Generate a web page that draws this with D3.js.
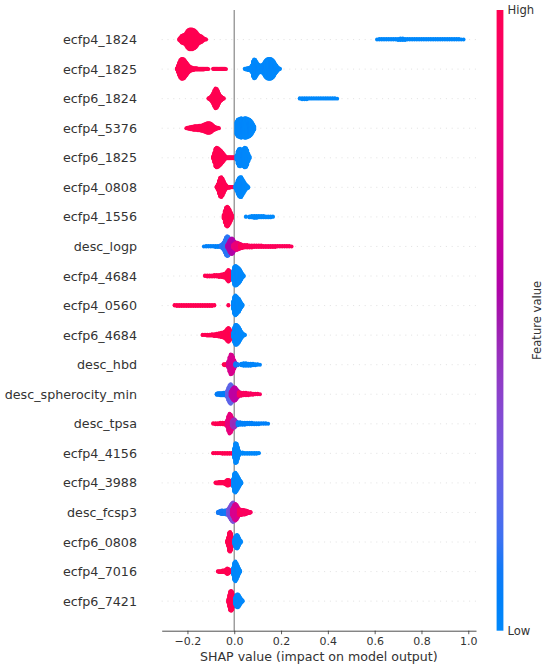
<!DOCTYPE html>
<meta charset="utf-8">
<head>
    <title>SHAP summary</title>
    <script src="https://cdn.jsdelivr.net/npm/d3@7"></script>
</head>

<style>
    body { margin: 0; background: #fff; }
    text { font-family: "DejaVu Sans", sans-serif; fill: #333; }
</style>

<svg width="550" height="670"></svg>

<script>
    // features, most important first
    var features = ["ecfp4_1824", "ecfp4_1825", "ecfp6_1824", "ecfp4_5376", "ecfp6_1825",
        "ecfp4_0808", "ecfp4_1556", "desc_logp", "ecfp4_4684", "ecfp4_0560", "ecfp6_4684",
        "desc_hbd", "desc_spherocity_min", "desc_tpsa", "ecfp4_4156", "ecfp4_3988",
        "desc_fcsp3", "ecfp6_0808", "ecfp4_7016", "ecfp6_7421"];

    var xTicks = [-0.2, 0.0, 0.2, 0.4, 0.6, 0.8, 1.0];

    // each run: [first SHAP value, bin step, feature value (0 low .. 1 high), samples per bin]
    var ecfp4_1824 = [
        [-0.235, 0.005, 1, [3, 8, 14, 16, 18, 20, 26, 34, 38, 40, 40, 40, 38, 36, 32, 26, 20, 16, 14, 12, 8, 4, 2, 1]],
        [0.61, 0.01, 0, [1, 2, 2, 2, 2, 2, 2, 2, 2, 3, 4, 4, 3, 2, 2, 2, 2, 2, 2, 2, 2, 2, 2, 2, 2, 2, 2, 2, 2, 2, 2, 2, 2, 2, 2, 2, 1, 1]]
    ];
    var ecfp4_1825 = [
        [-0.245, 0.005, 1, [4, 14, 26, 36, 40, 40, 38, 32, 26, 20, 14, 10, 8, 6, 5, 4, 4, 4, 3, 3, 3, 3, 3, 3, 2, 2, 2, 1]],
        [-0.09, 0.005, 1, [2, 2, 2, 2, 2, 2, 2, 2, 2, 2, 2, 1]],
        [0.045, 0.005, 0, [2, 3, 4, 5, 6, 8, 14, 30, 38, 36, 28, 20, 16, 14, 14, 16, 20, 28, 34, 38, 40, 40, 40, 38, 34, 28, 20, 14, 8, 4, 2]]
    ];
    var ecfp6_1824 = [
        [-0.11, 0.005, 1, [2, 4, 8, 14, 22, 32, 40, 38, 30, 20, 12, 8, 4, 2]],
        [0.28, 0.01, 0, [2, 3, 3, 3, 2, 2, 2, 2, 2, 2, 2, 2, 2, 2, 2, 2, 1]]
    ];
    var ecfp4_5376 = [
        [-0.205, 0.005, 1, [1, 2, 3, 4, 5, 6, 7, 8, 8, 8, 9, 10, 10, 11, 12, 14, 16, 18, 20, 20, 20, 18, 14, 10, 7, 5, 3, 2, 1]],
        [0.01, 0.005, 0, [26, 34, 36, 38, 40, 36, 38, 40, 40, 38, 36, 34, 30, 24, 16, 8]]
    ];
    var ecfp6_1825 = [
        [-0.09, 0.005, 1, [6, 20, 36, 40, 38, 34, 30, 26, 20, 14, 8]],
        [-0.035, 0.005, 1, [3, 3, 3, 3, 3, 3, 3, 3, 3, 2]],
        [0.01, 0.005, 0, [10, 26, 34, 36, 32, 30, 36, 40, 38, 30, 16, 6]]
    ];
    var ecfp4_0808 = [
        [-0.075, 0.005, 1, [4, 12, 26, 38, 40, 34, 24, 14, 8, 4]],
        [-0.025, 0.005, 1, [3, 3, 2, 2, 2]],
        [0.005, 0.005, 0, [6, 16, 28, 36, 40, 40, 32, 24, 16, 10, 6, 3]]
    ];
    var ecfp4_1556 = [
        [-0.045, 0.005, 1, [8, 24, 36, 40, 36, 28, 18, 8]],
        [0.05, 0.005, 0, [2]],
        [0.065, 0.01, 0, [3, 4, 5, 5, 4, 4, 4, 3, 3, 3, 2]]
    ];
    var desc_logp = [
        [-0.13, 0.01, 0.05, [1, 2, 2, 2, 2, 3, 3, 4]],
        [-0.055, 0.005, 0.12, [6, 10, 16, 26, 36, 40, 38, 30, 22, 16]],
        [-0.03, 0.005, 0.55, [6, 14, 24, 30, 32, 28, 20, 14, 10, 8, 8]],
        [-0.005, 0.005, 0.82, [6, 10, 14, 16, 14, 12, 10, 8]],
        [0.025, 0.01, 0.97, [8, 7, 6, 6, 5, 5, 4, 4, 4, 4, 3, 3, 3, 3, 3, 3, 2, 2, 2, 2, 2, 2, 1]]
    ];
    var ecfp4_4684 = [
        [-0.125, 0.01, 1, [2, 3, 3, 3, 4, 4, 5, 6, 8, 12]],
        [-0.03, 0.005, 1, [18, 24, 20, 10]],
        [-0.005, 0.005, 0, [20, 36, 40, 38, 34, 30, 24, 16, 8, 3]]
    ];
    var ecfp4_0560 = [
        [-0.255, 0.01, 1, [2, 3, 3, 3, 3, 3, 3, 3, 3, 3, 3, 3, 3, 3, 3, 3, 3, 2]],
        [-0.025, 0.005, 1, [2]],
        [-0.005, 0.005, 0, [16, 34, 40, 36, 30, 26, 18, 10, 4]]
    ];
    var ecfp6_4684 = [
        [-0.135, 0.01, 1, [2, 2, 3, 3, 4, 5, 6, 8, 10, 12]],
        [-0.04, 0.005, 1, [14, 18, 24, 28, 24, 16, 8]],
        [-0.005, 0.005, 0, [10, 30, 40, 40, 36, 30, 22, 14, 8, 4, 2]]
    ];
    var desc_hbd = [
        [-0.045, 0.005, 1, [2, 3, 3, 4, 5]],
        [-0.025, 0.005, 0.72, [14, 30, 40, 38, 30, 18, 8]],
        [0.005, 0.005, 0.1, [6, 4, 3]],
        [0.03, 0.01, 0.03, [4, 6, 6, 5, 5, 4, 3, 2, 1]]
    ];
    var desc_spherocity_min = [
        [-0.075, 0.005, 0.08, [3, 4, 4, 5, 5, 5, 6, 6, 7, 8]],
        [-0.03, 0.005, 0.22, [14, 26, 36, 40, 34, 24]],
        [-0.015, 0.005, 0.6, [10, 18, 24, 28, 26, 20, 14, 10]],
        [0.02, 0.01, 0.95, [8, 7, 6, 6, 5, 4, 3, 2, 2, 1]]
    ];
    var desc_tpsa = [
        [-0.09, 0.01, 1, [2, 3, 3, 4, 4, 5, 6]],
        [-0.03, 0.005, 0.8, [14, 30, 40, 36, 26, 16]],
        [-0.01, 0.005, 0.45, [10, 16, 18, 14, 8]],
        [0.015, 0.01, 0.05, [7, 6, 5, 5, 4, 4, 4, 3, 3, 3, 2, 2, 2, 1]]
    ];
    var ecfp4_4156 = [
        [-0.09, 0.01, 1, [2, 2, 2, 2, 3, 3, 3, 3, 3, 2]],
        [0.0, 0.005, 0, [20, 40, 38, 24, 10]],
        [0.025, 0.01, 0, [4, 4, 3, 3, 3, 3, 3, 3, 2]]
    ];
    var ecfp4_3988 = [
        [-0.08, 0.005, 1, [2, 3, 3, 4, 4, 4, 4, 4, 5, 8, 12, 12, 10, 6, 4]],
        [-0.005, 0.005, 0, [16, 36, 40, 34, 26, 18, 10, 4]]
    ];
    var desc_fcsp3 = [
        [-0.07, 0.005, 0.1, [3, 4, 6, 8, 8, 7, 8, 9, 10, 12]],
        [-0.025, 0.005, 0.32, [14, 22, 30, 36, 40, 36]],
        [-0.01, 0.005, 0.72, [12, 20, 30, 34, 30, 22, 14]],
        [0.02, 0.005, 0.95, [12, 12, 11, 10, 10, 9, 8, 6, 4, 3, 2]]
    ];
    var ecfp6_0808 = [
        [-0.03, 0.004, 1, [6, 18, 36, 40, 34, 20, 8]],
        [0.0, 0.004, 0, [10, 20, 26, 28, 24, 16, 8, 4]]
    ];
    var ecfp4_7016 = [
        [-0.07, 0.005, 1, [2, 3, 3, 3, 4, 4, 4, 8, 12, 10, 6, 4, 3]],
        [-0.005, 0.005, 0, [14, 34, 40, 32, 22, 12, 4]]
    ];
    var ecfp6_7421 = [
        [-0.025, 0.004, 1, [8, 24, 38, 40, 36, 24, 10]],
        [0.004, 0.004, 0, [14, 22, 26, 26, 22, 16, 10, 6, 2]]
    ];

    var rows = [ecfp4_1824, ecfp4_1825, ecfp6_1824, ecfp4_5376, ecfp6_1825, ecfp4_0808,
        ecfp4_1556, desc_logp, ecfp4_4684, ecfp4_0560, ecfp6_4684, desc_hbd,
        desc_spherocity_min, desc_tpsa, ecfp4_4156, ecfp4_3988, desc_fcsp3, ecfp6_0808,
        ecfp4_7016, ecfp6_7421];

    var svg = d3.select('svg');

    var x = d3.scaleLinear().domain([-0.31, 1.033]).range([161.7, 476]);
    var y = d3.scaleLinear().domain([-1, features.length]).range([630.7, 10]);

    // shap's red_blue map: hue/chroma run blue -> red in Lch, lightness dips to 40 in the middle
    var hueC = d3.interpolateNumber(266.9, 380.3);
    var chromaC = d3.interpolateNumber(70, 90);
    var lightC = d3.scaleLinear().domain([0, 0.5, 1]).range([54, 40, 54]);
    var color = function (t) { return d3.hcl(hueC(t), chromaC(t), lightC(t)).formatHex(); };

    // dotted row guides and the zero line
    svg.append('g').selectAll('line').data(features).enter().append('line')
        .attr('x1', x.range()[0]).attr('x2', x.range()[1])
        .attr('y1', function (d, i) { return y(features.length - 1 - i); })
        .attr('y2', function (d, i) { return y(features.length - 1 - i); })
        .attr('stroke', '#cccccc').attr('stroke-width', 0.6).attr('stroke-dasharray', '1,4.8');

    svg.append('line')
        .attr('x1', x(0)).attr('x2', x(0)).attr('y1', y(-1)).attr('y2', y(features.length))
        .attr('stroke', '#999999').attr('stroke-width', 1.4);

    // beeswarm: points of one bin are stacked around the row, like shap does
    var dots = svg.append('g');
    features.forEach(function (name, i) {
        var pos = features.length - 1 - i;
        var rowRuns = rows[i];
        var maxLayer = d3.max(rowRuns, function (r) {
            return d3.max(r[3], function (n) { return Math.ceil((n - 1) / 2); });
        });
        var k = 0.9 * 0.4 / (maxLayer + 1);
        var pts = [];
        rowRuns.forEach(function (r) {
            r[3].forEach(function (n, j) {
                var v = r[0] + j * r[1];
                for (var l = 0; l < n; l++) {
                    var off = Math.ceil(l / 2) * (l % 2 ? 1 : -1);
                    pts.push({v: v, y: pos + off * k, c: r[2]});
                }
            });
        });
        dots.append('g').selectAll('circle').data(pts).enter().append('circle')
            .attr('cx', function (d) { return x(d.v); })
            .attr('cy', function (d) { return y(d.y); })
            .attr('r', 1.95)
            .attr('fill', function (d) { return color(d.c); });
    });

    // feature names
    svg.append('g').selectAll('text').data(features).enter().append('text')
        .attr('x', 137)
        .attr('y', function (d, i) { return y(features.length - 1 - i); })
        .attr('dy', '0.36em')
        .attr('text-anchor', 'end')
        .style('font-size', '12.7px')
        .text(function (d) { return d; });

    // x axis
    var gx = svg.append('g').attr('transform', 'translate(0,' + y(-1) + ')')
        .call(d3.axisBottom(x).tickValues(xTicks).tickFormat(d3.format('.1f'))
            .tickSize(3.5).tickSizeOuter(0).tickPadding(3.5));
    gx.select('.domain').attr('stroke', '#222').attr('stroke-width', 0.8);
    gx.selectAll('.tick line').attr('stroke', '#333').attr('stroke-width', 0.8);
    gx.selectAll('.tick text').attr('fill', '#333')
        .style('font-family', '"DejaVu Sans", sans-serif').style('font-size', '11px');

    svg.append('text')
        .attr('x', (x.range()[0] + x.range()[1]) / 2).attr('y', 660.5)
        .attr('text-anchor', 'middle').style('font-size', '12.6px')
        .text('SHAP value (impact on model output)');

    // colour bar
    var grad = svg.append('defs').append('linearGradient')
        .attr('id', 'fv').attr('x1', 0).attr('y1', 1).attr('x2', 0).attr('y2', 0);
    grad.selectAll('stop').data(d3.range(0, 1.0001, 0.05)).enter().append('stop')
        .attr('offset', function (d) { return d; })
        .attr('stop-color', function (d) { return color(d); });

    svg.append('rect')
        .attr('x', 496.6).attr('y', y(features.length)).attr('width', 6.8)
        .attr('height', y(-1) - y(features.length))
        .attr('fill', 'url(#fv)');

    svg.append('text').attr('x', 507.5).attr('y', y(features.length)).attr('dy', '0.36em')
        .style('font-size', '11.6px').text('High');
    svg.append('text').attr('x', 507.5).attr('y', y(-1)).attr('dy', '0.36em')
        .style('font-size', '11.6px').text('Low');
    svg.append('text')
        .attr('transform', 'translate(537,' + (y(-1) + y(features.length)) / 2 + ') rotate(-90)')
        .attr('text-anchor', 'middle').attr('dy', '0.36em')
        .style('font-size', '11.6px').text('Feature value');
</script>
